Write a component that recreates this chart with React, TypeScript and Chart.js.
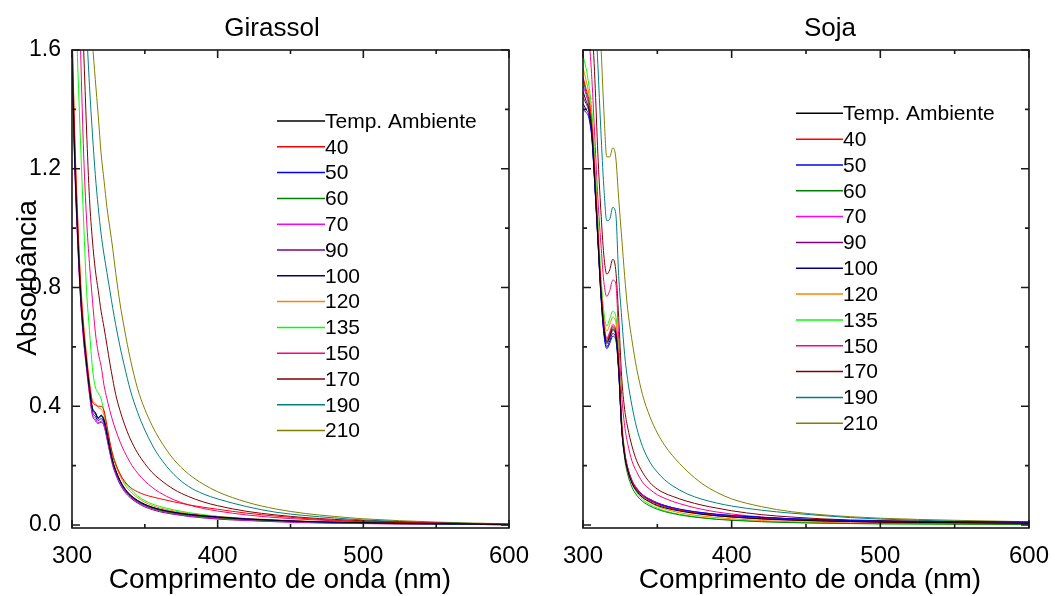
import React, { useEffect, useRef } from "react";
import { Chart, registerables } from "chart.js";

Chart.register(...registerables);

const FONT = "'Liberation Sans', Arial, Helvetica, sans-serif";

// ---------- data ----------
const WAVELENGTHS = [300, 302, 304, 306, 308, 310, 312, 314, 316, 318, 320, 322, 324, 326, 328, 330, 333, 336, 340, 345, 350, 355, 360, 370, 380, 390, 400, 420, 440, 460, 480, 500, 550, 600];

const SERIES_LABELS = ["Temp. Ambiente", "40", "50", "60", "70", "90", "100", "120", "135", "150", "170", "190", "210"];
const SERIES_COLORS = ["#000000", "#ff0000", "#0000ff", "#008000", "#ff00ff", "#800080", "#000080", "#ff8000", "#00ff00", "#ff0080", "#800000", "#008080", "#808000"];

const X_TICKS = [300, 400, 500, 600];
const X_MINOR_TICKS = [350, 450, 550];
const Y_TICKS = [0, 0.4, 0.8, 1.2, 1.6];
const Y_MINOR_TICKS = [0.2, 0.6, 1.0, 1.4];

// Girassol
const GIR_AMB = [1.58, 1.22, 0.97, 0.77, 0.64, 0.545, 0.46, 0.395, 0.38, 0.36, 0.37, 0.355, 0.31, 0.26, 0.215, 0.185, 0.15, 0.125, 0.102, 0.083, 0.07, 0.06, 0.053, 0.043, 0.036, 0.031, 0.027, 0.02, 0.016, 0.012, 0.01, 0.008, 0.005, 0.002];
const GIR_40 = [1.66, 1.28, 1.01, 0.8, 0.66, 0.56, 0.475, 0.415, 0.405, 0.4, 0.4, 0.385, 0.335, 0.28, 0.235, 0.205, 0.172, 0.148, 0.127, 0.112, 0.102, 0.095, 0.089, 0.078, 0.068, 0.06, 0.053, 0.04, 0.03, 0.022, 0.016, 0.012, 0.006, 0.002];
const GIR_50 = [1.6, 1.23, 0.975, 0.775, 0.645, 0.545, 0.46, 0.39, 0.375, 0.358, 0.366, 0.35, 0.305, 0.255, 0.212, 0.182, 0.148, 0.123, 0.1, 0.082, 0.069, 0.06, 0.053, 0.043, 0.036, 0.031, 0.027, 0.021, 0.016, 0.012, 0.009, 0.007, 0.004, 0.002];
const GIR_60 = [1.62, 1.24, 0.98, 0.78, 0.645, 0.548, 0.462, 0.393, 0.378, 0.362, 0.37, 0.352, 0.307, 0.258, 0.214, 0.184, 0.149, 0.123, 0.099, 0.08, 0.067, 0.057, 0.05, 0.04, 0.033, 0.028, 0.024, 0.018, 0.014, 0.011, 0.008, 0.006, 0.003, 0.001];
const GIR_70 = [1.56, 1.2, 0.95, 0.755, 0.625, 0.53, 0.445, 0.375, 0.358, 0.345, 0.35, 0.338, 0.295, 0.247, 0.205, 0.175, 0.142, 0.117, 0.095, 0.077, 0.064, 0.055, 0.048, 0.038, 0.031, 0.026, 0.022, 0.016, 0.012, 0.009, 0.007, 0.005, 0.003, 0.001];
const GIR_90 = [1.55, 1.19, 0.94, 0.75, 0.62, 0.525, 0.44, 0.37, 0.352, 0.342, 0.347, 0.333, 0.29, 0.243, 0.2, 0.17, 0.137, 0.113, 0.092, 0.074, 0.061, 0.052, 0.045, 0.036, 0.029, 0.024, 0.02, 0.015, 0.011, 0.008, 0.006, 0.005, 0.003, 0.001];
const GIR_100 = [1.57, 1.21, 0.96, 0.765, 0.635, 0.538, 0.452, 0.383, 0.366, 0.352, 0.358, 0.344, 0.3, 0.25, 0.207, 0.177, 0.144, 0.119, 0.097, 0.079, 0.066, 0.057, 0.05, 0.04, 0.033, 0.028, 0.024, 0.018, 0.014, 0.01, 0.008, 0.006, 0.003, 0.001];
const GIR_120 = [1.7, 1.3, 1.03, 0.82, 0.68, 0.575, 0.485, 0.42, 0.41, 0.395, 0.39, 0.37, 0.325, 0.275, 0.232, 0.2, 0.165, 0.138, 0.113, 0.092, 0.077, 0.066, 0.058, 0.047, 0.039, 0.033, 0.029, 0.022, 0.017, 0.013, 0.01, 0.008, 0.004, 0.002];
const GIR_135 = [2.1, 1.85, 1.54, 1.27, 1.02, 0.79, 0.655, 0.53, 0.465, 0.445, 0.425, 0.38, 0.325, 0.275, 0.238, 0.208, 0.172, 0.145, 0.122, 0.098, 0.082, 0.071, 0.063, 0.051, 0.042, 0.035, 0.029, 0.021, 0.016, 0.012, 0.009, 0.007, 0.004, 0.002];
const GIR_150 = [2.7, 2.3, 1.95, 1.58, 1.25, 1.03, 0.88, 0.76, 0.65, 0.58, 0.535, 0.47, 0.425, 0.385, 0.35, 0.32, 0.28, 0.247, 0.21, 0.175, 0.148, 0.127, 0.11, 0.085, 0.068, 0.056, 0.047, 0.034, 0.025, 0.019, 0.014, 0.011, 0.006, 0.002];
const GIR_170 = [3.0, 2.6, 2.2, 1.85, 1.6, 1.33, 1.1, 0.96, 0.86, 0.79, 0.72, 0.665, 0.605, 0.545, 0.49, 0.44, 0.385, 0.34, 0.29, 0.243, 0.207, 0.177, 0.155, 0.12, 0.096, 0.078, 0.065, 0.046, 0.034, 0.025, 0.019, 0.014, 0.007, 0.002];
const GIR_190 = [3.4, 3.0, 2.6, 2.25, 1.95, 1.68, 1.48, 1.32, 1.18, 1.07, 0.98, 0.91, 0.85, 0.79, 0.73, 0.675, 0.6, 0.535, 0.455, 0.38, 0.32, 0.27, 0.23, 0.17, 0.13, 0.105, 0.088, 0.062, 0.043, 0.032, 0.024, 0.017, 0.008, 0.003];
const GIR_210 = [3.8, 3.4, 3.0, 2.65, 2.35, 2.05, 1.8, 1.63, 1.5, 1.38, 1.25, 1.16, 1.07, 1.0, 0.93, 0.85, 0.745, 0.66, 0.56, 0.46, 0.39, 0.335, 0.29, 0.22, 0.172, 0.138, 0.112, 0.077, 0.054, 0.039, 0.029, 0.021, 0.01, 0.004];

// Soja
const SOJ_AMB = [1.46, 1.43, 1.4, 1.32, 1.15, 0.97, 0.79, 0.665, 0.615, 0.635, 0.66, 0.645, 0.53, 0.33, 0.235, 0.185, 0.14, 0.115, 0.093, 0.078, 0.066, 0.058, 0.052, 0.043, 0.036, 0.031, 0.027, 0.021, 0.017, 0.014, 0.012, 0.01, 0.008, 0.006];
const SOJ_40 = [1.51, 1.47, 1.43, 1.34, 1.17, 0.985, 0.8, 0.675, 0.625, 0.645, 0.67, 0.655, 0.54, 0.34, 0.243, 0.192, 0.146, 0.12, 0.098, 0.082, 0.07, 0.061, 0.055, 0.045, 0.037, 0.031, 0.027, 0.02, 0.016, 0.013, 0.011, 0.009, 0.007, 0.005];
const SOJ_50 = [1.4, 1.39, 1.37, 1.3, 1.14, 0.96, 0.775, 0.645, 0.594, 0.612, 0.636, 0.625, 0.515, 0.325, 0.235, 0.188, 0.145, 0.12, 0.099, 0.084, 0.073, 0.065, 0.058, 0.048, 0.041, 0.036, 0.032, 0.026, 0.021, 0.018, 0.015, 0.013, 0.011, 0.01];
const SOJ_60 = [1.5, 1.46, 1.42, 1.33, 1.16, 0.975, 0.795, 0.67, 0.62, 0.64, 0.665, 0.65, 0.53, 0.325, 0.225, 0.172, 0.127, 0.101, 0.08, 0.064, 0.053, 0.045, 0.039, 0.03, 0.024, 0.019, 0.016, 0.011, 0.008, 0.006, 0.005, 0.004, 0.003, 0.002];
const SOJ_70 = [1.48, 1.45, 1.41, 1.33, 1.165, 0.98, 0.8, 0.68, 0.63, 0.65, 0.675, 0.66, 0.54, 0.34, 0.245, 0.195, 0.15, 0.124, 0.102, 0.086, 0.074, 0.065, 0.058, 0.047, 0.039, 0.033, 0.029, 0.022, 0.018, 0.015, 0.012, 0.01, 0.008, 0.006];
const SOJ_90 = [1.44, 1.42, 1.39, 1.31, 1.145, 0.965, 0.785, 0.66, 0.61, 0.63, 0.655, 0.64, 0.525, 0.33, 0.238, 0.19, 0.146, 0.121, 0.1, 0.084, 0.072, 0.063, 0.056, 0.046, 0.038, 0.033, 0.029, 0.023, 0.019, 0.016, 0.013, 0.011, 0.009, 0.007];
const SOJ_100 = [1.42, 1.4, 1.38, 1.305, 1.14, 0.96, 0.78, 0.652, 0.6, 0.62, 0.645, 0.632, 0.52, 0.33, 0.24, 0.193, 0.15, 0.125, 0.103, 0.087, 0.075, 0.066, 0.059, 0.049, 0.042, 0.036, 0.032, 0.026, 0.021, 0.018, 0.015, 0.013, 0.011, 0.009];
const SOJ_120 = [1.54, 1.5, 1.45, 1.36, 1.19, 1.0, 0.82, 0.7, 0.653, 0.675, 0.7, 0.685, 0.565, 0.355, 0.25, 0.195, 0.146, 0.118, 0.094, 0.076, 0.063, 0.054, 0.047, 0.037, 0.03, 0.025, 0.021, 0.015, 0.011, 0.009, 0.007, 0.006, 0.004, 0.003];
const SOJ_135 = [1.58, 1.54, 1.48, 1.39, 1.22, 1.03, 0.845, 0.72, 0.67, 0.695, 0.72, 0.705, 0.58, 0.36, 0.25, 0.19, 0.14, 0.111, 0.087, 0.069, 0.057, 0.048, 0.041, 0.032, 0.025, 0.02, 0.017, 0.012, 0.009, 0.007, 0.005, 0.004, 0.003, 0.002];
const SOJ_150 = [1.95, 1.8, 1.65, 1.5, 1.3, 1.1, 0.95, 0.82, 0.77, 0.79, 0.825, 0.815, 0.63, 0.44, 0.335, 0.275, 0.215, 0.18, 0.145, 0.12, 0.102, 0.09, 0.08, 0.065, 0.053, 0.044, 0.037, 0.027, 0.021, 0.017, 0.014, 0.012, 0.009, 0.007];
const SOJ_170 = [2.3, 2.05, 1.85, 1.7, 1.5, 1.25, 1.06, 0.91, 0.845, 0.86, 0.895, 0.86, 0.7, 0.5, 0.39, 0.33, 0.265, 0.218, 0.178, 0.143, 0.121, 0.107, 0.097, 0.08, 0.067, 0.057, 0.048, 0.035, 0.027, 0.021, 0.017, 0.015, 0.011, 0.009];
const SOJ_190 = [2.7, 2.45, 2.2, 2.0, 1.75, 1.55, 1.33, 1.14, 1.025, 1.03, 1.07, 1.05, 0.84, 0.7, 0.575, 0.49, 0.4, 0.33, 0.265, 0.212, 0.178, 0.152, 0.133, 0.105, 0.087, 0.074, 0.064, 0.05, 0.04, 0.032, 0.025, 0.02, 0.013, 0.008];
const SOJ_210 = [3.0, 2.7, 2.4, 2.15, 1.95, 1.77, 1.62, 1.4, 1.24, 1.24, 1.27, 1.24, 1.1, 0.97, 0.84, 0.73, 0.62, 0.53, 0.44, 0.365, 0.31, 0.268, 0.235, 0.182, 0.14, 0.11, 0.088, 0.062, 0.045, 0.035, 0.028, 0.023, 0.016, 0.011];

const GIRASSOL_SERIES = [GIR_AMB, GIR_40, GIR_50, GIR_60, GIR_70, GIR_90, GIR_100, GIR_120, GIR_135, GIR_150, GIR_170, GIR_190, GIR_210];
const SOJA_SERIES = [SOJ_AMB, SOJ_40, SOJ_50, SOJ_60, SOJ_70, SOJ_90, SOJ_100, SOJ_120, SOJ_135, SOJ_150, SOJ_170, SOJ_190, SOJ_210];

const X_TITLE = "Comprimento de onda (nm)";
const Y_TITLE = "Absorbância";

// ---------- plugins ----------
const framePlugin = {
  id: "frame",
  afterDatasetsDraw(chart: any, _args: any, opts: any) {
    const { ctx, chartArea: a, scales } = chart;
    const xs = scales.x;
    const ys = scales.y;
    ctx.save();
    ctx.strokeStyle = "#1a1a1a";
    ctx.lineWidth = 1.6;
    ctx.strokeRect(a.left, a.top, a.right - a.left, a.bottom - a.top);
    ctx.beginPath();
    const xTick = (v: number, len: number) => {
      const px = xs.getPixelForValue(v);
      ctx.moveTo(px, a.bottom);
      ctx.lineTo(px, a.bottom - len);
      ctx.moveTo(px, a.top);
      ctx.lineTo(px, a.top + len);
    };
    const yTick = (v: number, len: number) => {
      const py = ys.getPixelForValue(v);
      ctx.moveTo(a.left, py);
      ctx.lineTo(a.left + len, py);
      ctx.moveTo(a.right, py);
      ctx.lineTo(a.right - len, py);
    };
    opts.xMajor.forEach((v: number) => xTick(v, 8));
    opts.xMinor.forEach((v: number) => xTick(v, 4));
    opts.yMajor.forEach((v: number) => yTick(v, 8));
    opts.yMinor.forEach((v: number) => yTick(v, 4));
    ctx.stroke();
    ctx.restore();
  },
};

const insetLegendPlugin = {
  id: "insetLegend",
  afterDraw(chart: any, _args: any, opts: any) {
    const { ctx } = chart;
    ctx.save();
    ctx.font = `${opts.fontSize}px ${FONT}`;
    ctx.textBaseline = "middle";
    ctx.textAlign = "left";
    chart.data.datasets.forEach((ds: any, i: number) => {
      const cy = opts.y + i * opts.gap;
      ctx.strokeStyle = ds.borderColor;
      ctx.lineWidth = 1.5;
      ctx.beginPath();
      ctx.moveTo(opts.x, cy);
      ctx.lineTo(opts.x + opts.lineLength, cy);
      ctx.stroke();
      ctx.fillStyle = "#000";
      ctx.fillText(ds.label, opts.x + opts.lineLength, cy + 1);
    });
    ctx.restore();
  },
};

const panelTextPlugin = {
  id: "panelText",
  afterDraw(chart: any, _args: any, opts: any) {
    const { ctx } = chart;
    ctx.save();
    ctx.fillStyle = "#000";
    ctx.textAlign = "center";
    ctx.textBaseline = "middle";
    (opts.items || []).forEach((it: any) => {
      ctx.save();
      ctx.font = `${it.size}px ${FONT}`;
      ctx.translate(it.x, it.y);
      if (it.rotate) ctx.rotate(it.rotate);
      ctx.fillText(it.text, 0, 0);
      ctx.restore();
    });
    ctx.restore();
  },
};

type Layout = {
  padTop: number;
  padRight: number;
  yAxisWidth: number;
  xAxisHeight: number;
  showYLabels: boolean;
  legend: { x: number; y: number; gap: number; lineLength: number; fontSize: number };
  texts: any[];
};

function makeConfig(series: number[][], p: Layout): any {
  return {
    type: "line",
    data: {
      datasets: series.map((vals, i) => ({
        label: SERIES_LABELS[i],
        data: WAVELENGTHS.map((w, j) => ({ x: w, y: vals[j] })),
        borderColor: SERIES_COLORS[i],
        backgroundColor: SERIES_COLORS[i],
        borderWidth: 1,
        pointRadius: 0,
        fill: false,
        cubicInterpolationMode: "monotone",
      })),
    },
    options: {
      responsive: false,
      animation: false,
      events: [],
      layout: { padding: { top: p.padTop, right: p.padRight, left: 0, bottom: 0 } },
      scales: {
        x: {
          type: "linear",
          min: 300,
          max: 600,
          grid: { display: false },
          border: { display: false },
          ticks: { font: { family: FONT, size: 24 }, color: "#000", padding: 6, maxRotation: 0, autoSkip: false },
          afterBuildTicks: (s: any) => {
            s.ticks = X_TICKS.map((v) => ({ value: v }));
          },
          afterFit: (s: any) => {
            s.height = p.xAxisHeight;
          },
        },
        y: {
          type: "linear",
          min: -0.01,
          max: 1.6,
          grid: { display: false },
          border: { display: false },
          ticks: {
            display: p.showYLabels,
            font: { family: FONT, size: 23 },
            color: "#000",
            padding: 3,
            autoSkip: false,
            callback: (v: any) => Number(v).toFixed(1),
          },
          afterBuildTicks: (s: any) => {
            s.ticks = Y_TICKS.map((v) => ({ value: v }));
          },
          afterFit: (s: any) => {
            s.width = p.yAxisWidth;
          },
        },
      },
      plugins: {
        legend: { display: false },
        tooltip: { enabled: false },
        title: { display: false },
        frame: { xMajor: X_TICKS, xMinor: X_MINOR_TICKS, yMajor: Y_TICKS, yMinor: Y_MINOR_TICKS },
        insetLegend: p.legend,
        panelText: { items: p.texts },
      },
    },
    plugins: [framePlugin, insetLegendPlugin, panelTextPlugin],
  };
}

export default function App() {
  const leftRef = useRef<HTMLCanvasElement | null>(null);
  const rightRef = useRef<HTMLCanvasElement | null>(null);

  useEffect(() => {
    const left = new Chart(
      leftRef.current as HTMLCanvasElement,
      makeConfig(GIRASSOL_SERIES, {
        padTop: 50,
        padRight: 31,
        yAxisWidth: 72,
        xAxisHeight: 68,
        showYLabels: true,
        legend: { x: 277, y: 121, gap: 25.8, lineLength: 48, fontSize: 21 },
        texts: [
          { text: "Girassol", x: 272, y: 29, size: 26 },
          { text: X_TITLE, x: 280, y: 580, size: 28 },
          { text: Y_TITLE, x: 28, y: 278, size: 28, rotate: -Math.PI / 2 },
        ],
      })
    );
    const right = new Chart(
      rightRef.current as HTMLCanvasElement,
      makeConfig(SOJA_SERIES, {
        padTop: 50,
        padRight: 25,
        yAxisWidth: 43,
        xAxisHeight: 68,
        showYLabels: false,
        legend: { x: 256, y: 113.3, gap: 25.83, lineLength: 47, fontSize: 21 },
        texts: [
          { text: "Soja", x: 290, y: 29, size: 26 },
          { text: X_TITLE, x: 270, y: 580, size: 28 },
        ],
      })
    );
    return () => {
      left.destroy();
      right.destroy();
    };
  }, []);

  return (
    <div style={{ position: "fixed", left: 0, top: 0, width: 1055, height: 596, background: "#fff" }}>
      <canvas ref={leftRef} width={540} height={596} style={{ position: "absolute", left: 0, top: 0 }} />
      <canvas ref={rightRef} width={515} height={596} style={{ position: "absolute", left: 540, top: 0 }} />
    </div>
  );
}
